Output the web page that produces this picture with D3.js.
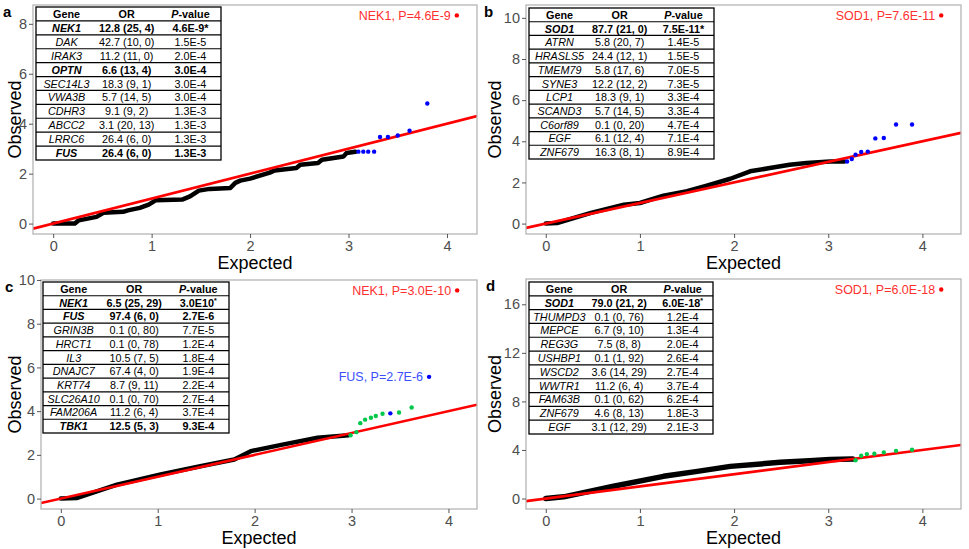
<!DOCTYPE html>
<html><head><meta charset="utf-8">
<script src="https://cdn.jsdelivr.net/npm/d3@7"></script>
<style>
body{margin:0;background:#fff}
text{font-family:"Liberation Sans",Arial,Helvetica,sans-serif}
</style>
</head><body>
<svg id="chart" width="969" height="549"></svg>
<script>
// ---------------- DATA ----------------
const xTicks = [0, 1, 2, 3, 4];
const yTicksA = [0, 2, 4, 6, 8];
const yTicksB = [0, 2, 4, 6, 8, 10];
const yTicksC = [0, 2, 4, 6, 8, 10];
const yTicksD = [0, 4, 8, 12, 16];

// Tables
const genesA = ["NEK1","DAK","IRAK3","OPTN","SEC14L3","VWA3B","CDHR3","ABCC2","LRRC6","FUS"];
const orA    = ["12.8 (25, 4)","42.7 (10, 0)","11.2 (11, 0)","6.6 (13, 4)","18.3 (9, 1)","5.7 (14, 5)","9.1 (9, 2)","3.1 (20, 13)","26.4 (6, 0)","26.4 (6, 0)"];
const pA     = ["4.6E-9*","1.5E-5","2.0E-4","3.0E-4","3.0E-4","3.0E-4","1.3E-3","1.3E-3","1.3E-3","1.3E-3"];
const boldA  = [1,0,0,1,0,0,0,0,0,1];

const genesB = ["SOD1","ATRN","HRASLS5","TMEM79","SYNE3","LCP1","SCAND3","C6orf89","EGF","ZNF679"];
const orB    = ["87.7 (21, 0)","5.8 (20, 7)","24.4 (12, 1)","5.8 (17, 6)","12.2 (12, 2)","18.3 (9, 1)","5.7 (14, 5)","0.1 (0, 20)","6.1 (12, 4)","16.3 (8, 1)"];
const pB     = ["7.5E-11*","1.4E-5","1.5E-5","7.0E-5","7.3E-5","3.3E-4","3.3E-4","4.7E-4","7.1E-4","8.9E-4"];
const boldB  = [1,0,0,0,0,0,0,0,0,0];

const genesC = ["NEK1","FUS","GRIN3B","HRCT1","IL3","DNAJC7","KRT74","SLC26A10","FAM206A","TBK1"];
const orC    = ["6.5 (25, 29)","97.4 (6, 0)","0.1 (0, 80)","0.1 (0, 78)","10.5 (7, 5)","67.4 (4, 0)","8.7 (9, 11)","0.1 (0, 70)","11.2 (6, 4)","12.5 (5, 3)"];
const pC     = ["3.0E10*","2.7E-6","7.7E-5","1.2E-4","1.8E-4","1.9E-4","2.2E-4","2.7E-4","3.7E-4","9.3E-4"];
const boldC  = [1,1,0,0,0,0,0,0,0,1];

const genesD = ["SOD1","THUMPD3","MEPCE","REG3G","USHBP1","WSCD2","WWTR1","FAM63B","ZNF679","EGF"];
const orD    = ["79.0 (21, 2)","0.1 (0, 76)","6.7 (9, 10)","7.5 (8, 8)","0.1 (1, 92)","3.6 (14, 29)","11.2 (6, 4)","0.1 (0, 62)","4.6 (8, 13)","3.1 (12, 29)"];
const pD     = ["6.0E-18*","1.2E-4","1.3E-4","2.0E-4","2.6E-4","2.7E-4","3.7E-4","6.2E-4","1.8E-3","2.1E-3"];
const boldD  = [1,0,0,0,0,0,0,0,0,0];

// QQ curves (expected, observed)
const curveExpA = [0,0.22,0.26,0.44,0.51,0.71,0.76,0.88,0.97,1.04,1.31,1.39,1.48,1.59,1.80,1.85,1.90,2.00,2.20,2.25,2.47,2.51,2.69,2.73,2.95,2.98,3.07];
const curveObsA = [0,0,0.13,0.27,0.43,0.47,0.53,0.63,0.76,0.93,0.96,1.09,1.32,1.39,1.43,1.63,1.72,1.80,2.04,2.13,2.23,2.36,2.43,2.56,2.69,2.83,2.88];
const blueExpA = [3.10,3.15,3.20,3.26,3.32,3.40,3.50,3.62,3.80];
const blueObsA = [2.88,2.88,2.88,2.88,3.47,3.47,3.53,3.72,4.81];
const hitLabelA = ["NEK1, P=4.6E-9"];
const hitExpA = [4.10];
const hitObsA = [8.337];

const curveExpB = [0,0.12,0.48,0.83,1.00,1.25,1.50,1.71,1.96,2.17,2.38,2.59,2.77,3.02,3.17];
const curveObsB = [0,0.03,0.52,0.92,1.00,1.36,1.57,1.84,2.18,2.54,2.70,2.86,2.95,3.02,3.02];
const blueExpB = [3.20,3.25,3.29,3.35,3.42,3.50,3.59,3.72,3.89];
const blueObsB = [3.02,3.14,3.35,3.48,3.50,4.14,4.16,4.82,4.82];
const hitLabelB = ["SOD1, P=7.6E-11"];
const hitExpB = [4.20];
const hitObsB = [10.119];

const curveExpC = [0,0.17,0.58,1.03,1.44,1.79,1.96,2.30,2.65,2.97];
const curveObsC = [0,0.03,0.64,1.10,1.48,1.79,2.17,2.48,2.78,2.90];
const greenExpC = [2.99,3.05,3.09,3.14,3.20,3.25,3.32,3.49,3.62];
const greenObsC = [2.90,3.04,3.45,3.61,3.70,3.78,3.88,3.94,4.17];
const blueExpC = [3.40];
const blueObsC = [3.90];
const hitLabelC = ["NEK1, P=3.0E-10","FUS, P=2.7E-6"];
const hitExpC = [4.09, 3.80];
const hitObsC = [9.523, 5.569];

const curveExpD = [0,0.19,0.72,1.25,1.61,1.96,2.49,2.80,3.02,3.26];
const curveObsD = [0,0.14,1.01,1.83,2.24,2.65,2.98,3.12,3.22,3.25];
const greenExpD = [3.29,3.35,3.41,3.49,3.59,3.72,3.89];
const greenObsD = [3.15,3.52,3.66,3.69,3.80,3.93,4.02];
const hitLabelD = ["SOD1, P=6.0E-18"];
const hitExpD = [4.20];
const hitObsD = [17.222];

// ---------------- DRAWING ----------------
const svg = d3.select("#chart");
const RED = "#ff0000", BLUE = "#0000ff", GREEN = "#00c84a";

function zip(a, b) { return a.map((v, i) => [v, b[i]]); }

function drawPanel(cfg) {
  const {L, R, T, B} = cfg.frame;
  const g = svg.append("g");
  const allX = cfg.curveExp.concat(cfg.hitExp, ...cfg.dots.map(d => d.exp));
  const allY = cfg.curveObs.concat(cfg.hitObs, ...cfg.dots.map(d => d.obs));
  const mx = d3.max(allX), my = d3.max(allY);
  const x = d3.scaleLinear().domain([-0.05 * mx, 1.05 * mx]).range([L, R]);
  const y = d3.scaleLinear().domain([-0.05 * my, 1.05 * my]).range([B, T]);

  const clipId = "clip" + cfg.id;
  g.append("clipPath").attr("id", clipId).append("rect")
    .attr("x", L).attr("y", T).attr("width", R - L).attr("height", B - T);

  const plot = g.append("g").attr("clip-path", `url(#${clipId})`);
  // black QQ curve
  plot.append("path")
    .datum(zip(cfg.curveExp, cfg.curveObs))
    .attr("d", d3.line().x(d => x(d[0])).y(d => y(d[1])))
    .attr("fill", "none").attr("stroke", "#000")
    .attr("stroke-width", cfg.curveWidth).attr("stroke-linejoin", "round").attr("stroke-linecap", "round");
  // y = x reference line
  const dom = x.domain();
  plot.append("line")
    .attr("x1", x(dom[0])).attr("y1", y(dom[0]))
    .attr("x2", x(dom[1])).attr("y2", y(dom[1]))
    .attr("stroke", RED).attr("stroke-width", 2.6);
  // coloured points
  cfg.dots.forEach(set => {
    plot.selectAll(null).data(zip(set.exp, set.obs)).enter().append("circle")
      .attr("cx", d => x(d[0])).attr("cy", d => y(d[1])).attr("r", 2.2)
      .attr("fill", set.color);
  });
  // hits
  cfg.hitExp.forEach((e, i) => {
    const cx = x(e), cy = y(cfg.hitObs[i]);
    plot.append("circle").attr("cx", cx).attr("cy", cy).attr("r", 2.2).attr("fill", cfg.hitColor[i]);
    g.append("text").attr("x", cx - 6).attr("y", cy + 4.3)
      .attr("text-anchor", "end").attr("font-size", 12.5)
      .attr("fill", cfg.hitTextColor[i]).text(cfg.hitLabel[i]);
  });

  // border
  g.append("rect").attr("x", L).attr("y", T).attr("width", R - L).attr("height", B - T)
    .attr("fill", "none").attr("stroke", "#b5b5b5").attr("stroke-width", 1.3);

  // axes
  const ax = g.append("g").attr("transform", `translate(0,${B})`)
    .call(d3.axisBottom(x).tickValues(xTicks).tickSize(4).tickPadding(3).tickFormat(d3.format("d")));
  const ay = g.append("g").attr("transform", `translate(${L},0)`)
    .call(d3.axisLeft(y).tickValues(cfg.yTicks).tickSize(4).tickPadding(2).tickFormat(d3.format("d")));
  [ax, ay].forEach(a => {
    a.select(".domain").remove();
    a.selectAll(".tick line").attr("stroke", "#555").attr("stroke-width", 1);
    a.selectAll(".tick text").attr("fill", "#4d4d4d").attr("font-size", 14.5)
      .attr("font-family", '"Liberation Sans",Arial,sans-serif');
  });

  // axis titles
  g.append("text").attr("x", (L + R) / 2).attr("y", B + 35).attr("text-anchor", "middle")
    .attr("font-size", 18).attr("fill", "#000").text("Expected");
  g.append("text").attr("transform", `translate(${cfg.yTitleX},${(T + B) / 2}) rotate(-90)`)
    .attr("text-anchor", "middle").attr("font-size", 18).attr("fill", "#000").text("Observed");

  // panel letter
  g.append("text").attr("x", cfg.letterX).attr("y", T + 12).attr("font-size", 15)
    .attr("font-weight", "bold").text(cfg.letter);

  // table
  const tb = cfg.table;
  const nRows = cfg.genes.length + 1;
  const rh = (tb.B - tb.T) / nRows;
  const tw = tb.R - tb.L;
  const colX = [tb.L + tw * 0.165, tb.L + tw * 0.49, tb.L + tw * 0.835];
  const tg = g.append("g");
  tg.append("rect").attr("x", tb.L).attr("y", tb.T).attr("width", tw).attr("height", tb.B - tb.T)
    .attr("fill", "#fff").attr("stroke", "#000").attr("stroke-width", 1.3);
  for (let i = 1; i < nRows; i++) {
    tg.append("line").attr("x1", tb.L).attr("x2", tb.R)
      .attr("y1", tb.T + i * rh).attr("y2", tb.T + i * rh)
      .attr("stroke", "#000").attr("stroke-width", 1.2);
  }
  const fs = 10.8;
  const hy = tb.T + rh / 2 + 4;
  tg.append("text").attr("x", colX[0]).attr("y", hy).attr("text-anchor", "middle")
    .attr("font-size", fs).attr("font-weight", "bold").text("Gene");
  tg.append("text").attr("x", colX[1]).attr("y", hy).attr("text-anchor", "middle")
    .attr("font-size", fs).attr("font-weight", "bold").text("OR");
  const ph = tg.append("text").attr("x", colX[2]).attr("y", hy).attr("text-anchor", "middle")
    .attr("font-size", fs).attr("font-weight", "bold");
  ph.append("tspan").attr("font-style", "italic").text("P");
  ph.append("tspan").text("-value");
  cfg.genes.forEach((gname, i) => {
    const yy = tb.T + (i + 1) * rh + rh / 2 + 4;
    const bw = cfg.bold[i] ? "bold" : "normal";
    tg.append("text").attr("x", colX[0]).attr("y", yy).attr("text-anchor", "middle")
      .attr("font-size", fs).attr("font-weight", bw).attr("font-style", "italic").text(gname);
    tg.append("text").attr("x", colX[1]).attr("y", yy).attr("text-anchor", "middle")
      .attr("font-size", fs).attr("font-weight", bw).text(cfg.or[i]);
    const pv = cfg.p[i];
    const t = tg.append("text").attr("x", colX[2]).attr("y", yy).attr("text-anchor", "middle")
      .attr("font-size", fs).attr("font-weight", bw);
    if (cfg.supStar && pv.endsWith("*")) {
      t.append("tspan").text(pv.slice(0, -1));
      t.append("tspan").attr("font-size", 7).attr("dy", -4).text("*");
    } else {
      t.text(pv);
    }
  });
}

const panels = [
  { id: "a", letter: "a", letterX: 3, yTitleX: 21,
    frame: {L: 33, R: 477, T: 5, B: 234},
    table: {L: 36, R: 221, T: 7, B: 160},
    yTicks: yTicksA, genes: genesA, or: orA, p: pA, bold: boldA, supStar: false,
    curveExp: curveExpA, curveObs: curveObsA, curveWidth: 4.5,
    dots: [{exp: blueExpA, obs: blueObsA, color: BLUE}],
    hitExp: hitExpA, hitObs: hitObsA, hitLabel: hitLabelA,
    hitColor: [RED], hitTextColor: ["#ff3030"] },
  { id: "b", letter: "b", letterX: 484, yTitleX: 501,
    frame: {L: 526, R: 961, T: 5, B: 234},
    table: {L: 529, R: 714, T: 8, B: 159},
    yTicks: yTicksB, genes: genesB, or: orB, p: pB, bold: boldB, supStar: false,
    curveExp: curveExpB, curveObs: curveObsB, curveWidth: 4.5,
    dots: [{exp: blueExpB, obs: blueObsB, color: BLUE}],
    hitExp: hitExpB, hitObs: hitObsB, hitLabel: hitLabelB,
    hitColor: [RED], hitTextColor: ["#ff3030"] },
  { id: "c", letter: "c", letterX: 5, yTitleX: 21,
    frame: {L: 41, R: 477, T: 280, B: 509},
    table: {L: 43, R: 229, T: 282, B: 433},
    yTicks: yTicksC, genes: genesC, or: orC, p: pC, bold: boldC, supStar: true,
    curveExp: curveExpC, curveObs: curveObsC, curveWidth: 4.5,
    dots: [{exp: greenExpC, obs: greenObsC, color: GREEN}, {exp: blueExpC, obs: blueObsC, color: BLUE}],
    hitExp: hitExpC, hitObs: hitObsC, hitLabel: hitLabelC,
    hitColor: [RED, BLUE], hitTextColor: ["#ff3030", "#3a50ff"] },
  { id: "d", letter: "d", letterX: 486, yTitleX: 501,
    frame: {L: 526, R: 961, T: 279, B: 509},
    table: {L: 529, R: 713, T: 282, B: 434},
    yTicks: yTicksD, genes: genesD, or: orD, p: pD, bold: boldD, supStar: true,
    curveExp: curveExpD, curveObs: curveObsD, curveWidth: 5.5,
    dots: [{exp: greenExpD, obs: greenObsD, color: GREEN}],
    hitExp: hitExpD, hitObs: hitObsD, hitLabel: hitLabelD,
    hitColor: [RED], hitTextColor: ["#ff3030"] }
];

panels.forEach(drawPanel);
</script>
</body></html>
